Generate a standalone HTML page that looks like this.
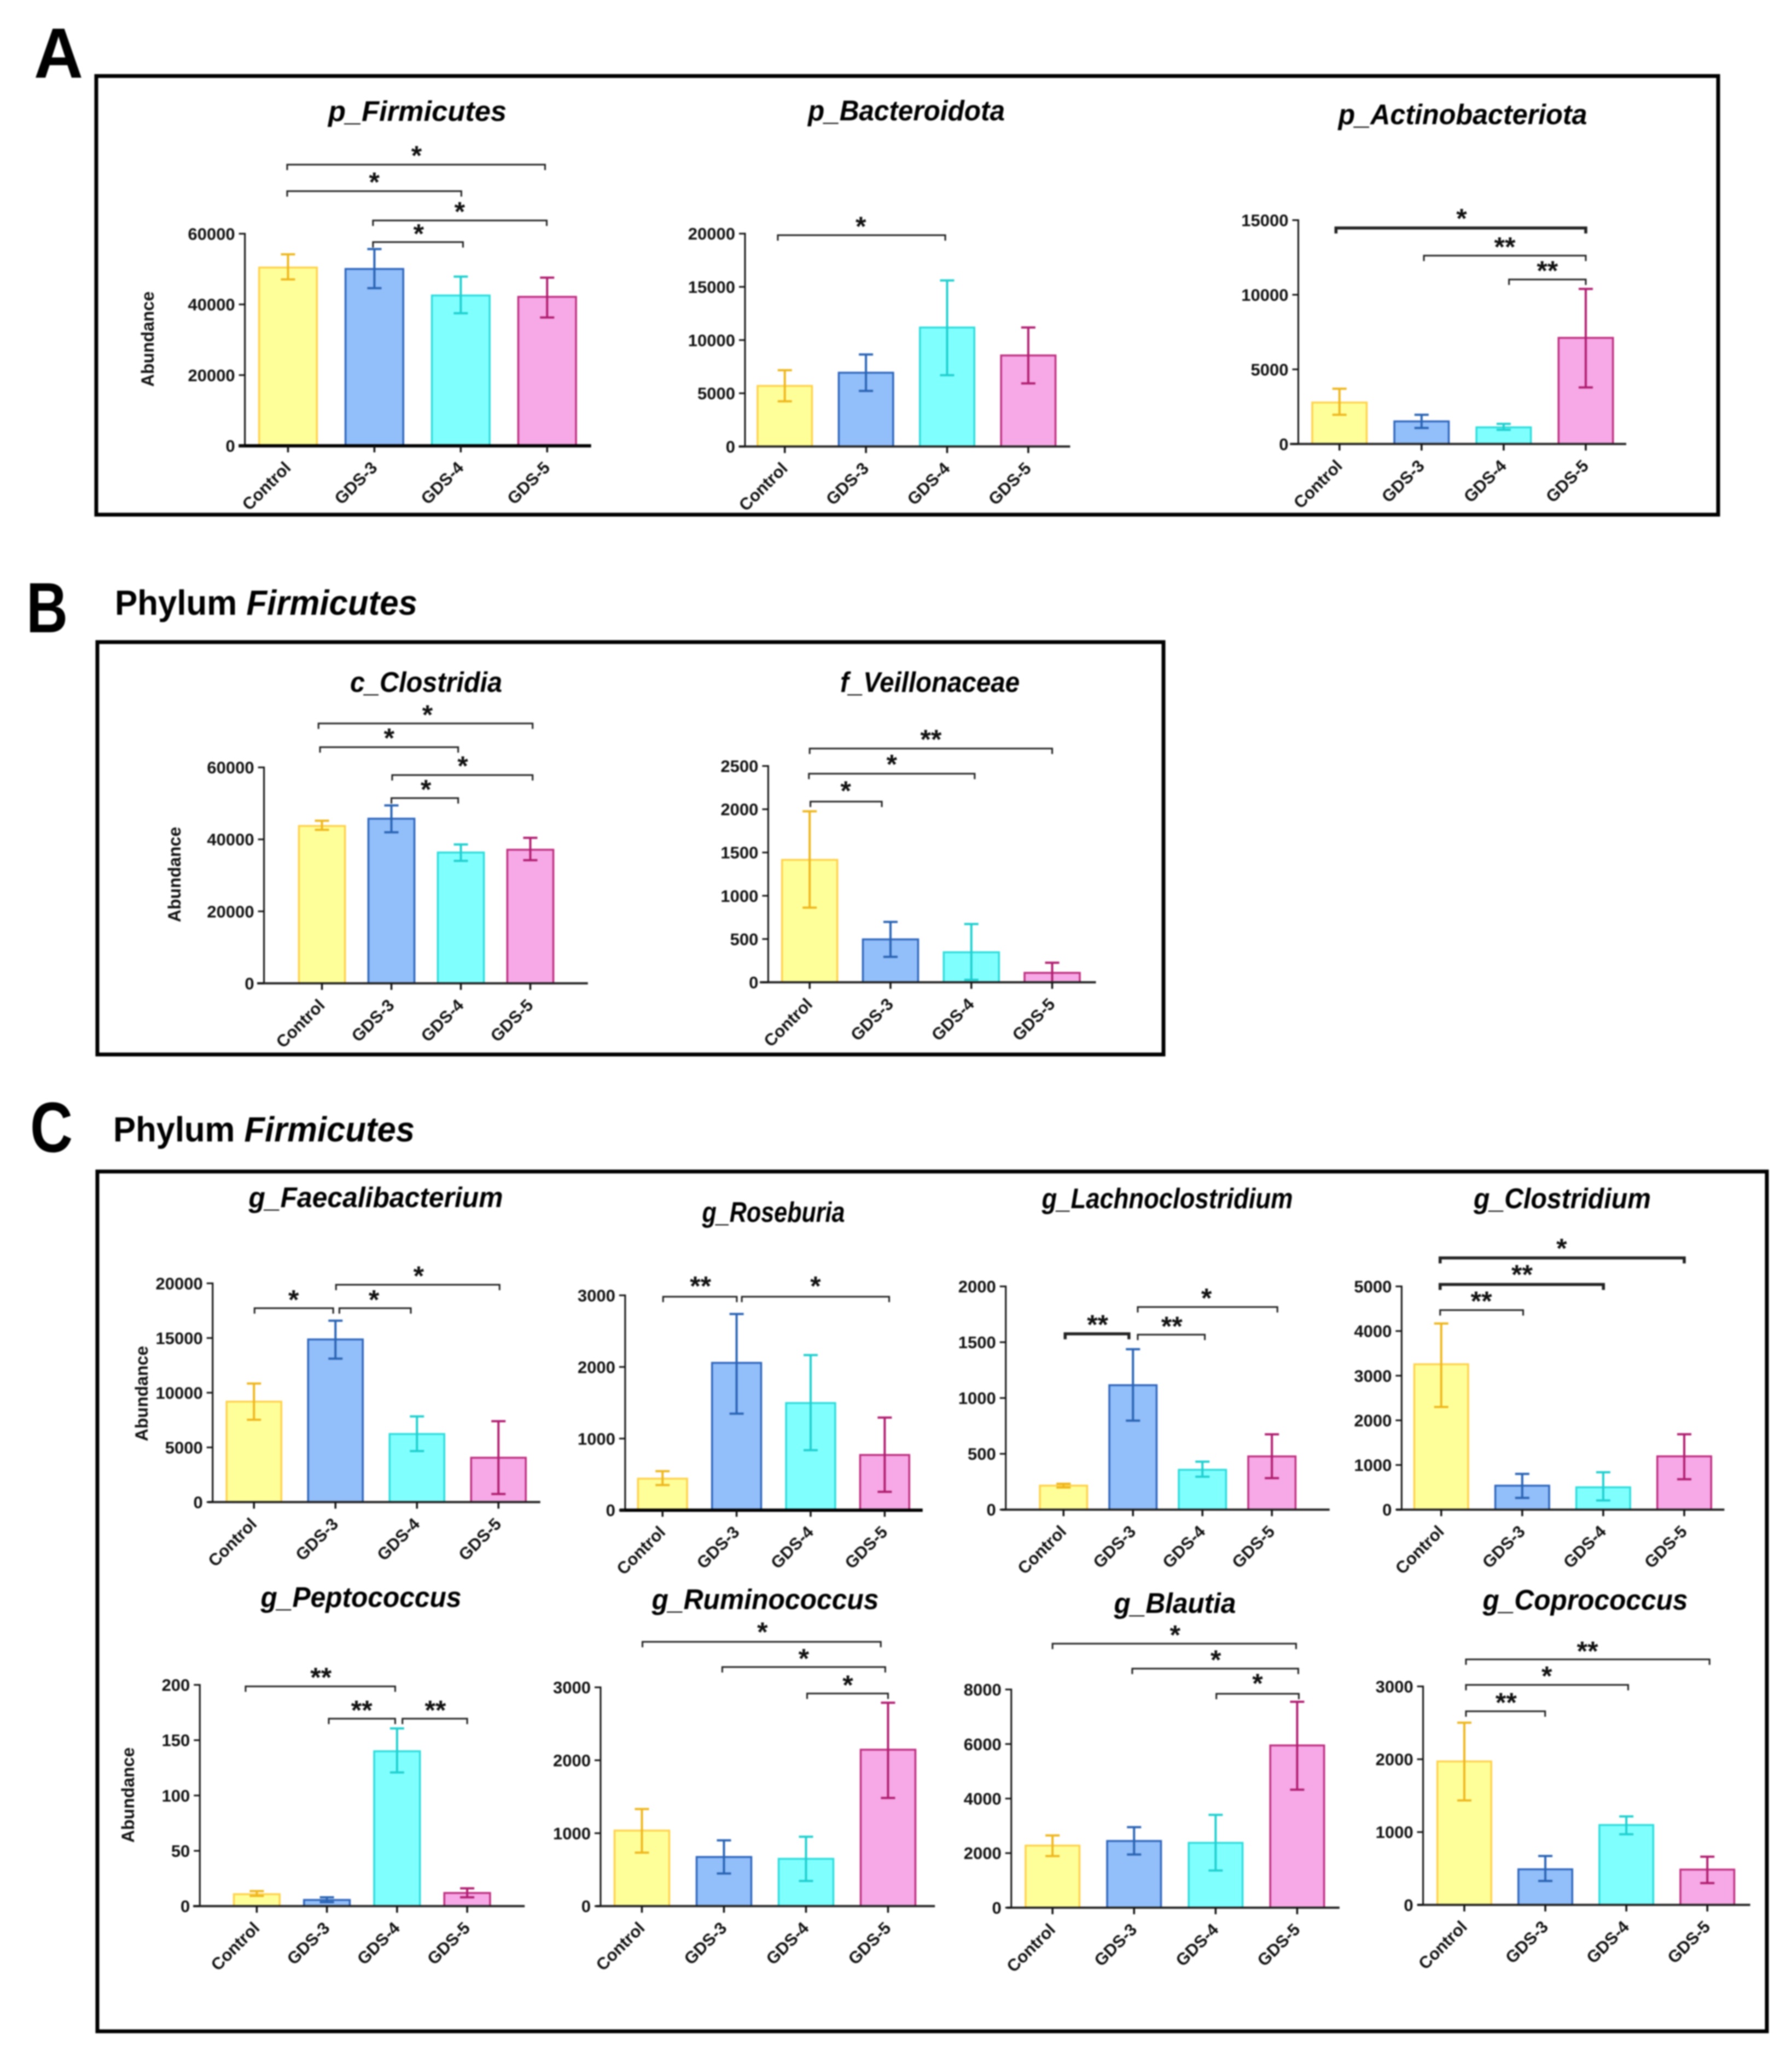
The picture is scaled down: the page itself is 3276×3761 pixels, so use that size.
<!DOCTYPE html>
<html lang="en">
<head>
<meta charset="utf-8">
<title>Gut microbiota abundance by group</title>
<style>
html,body{margin:0;padding:0;background:#fff;}
#figure{display:block;width:3276px;height:3761px;filter:blur(1.2px);font-family:"Liberation Sans",sans-serif;}
.panel-frame{fill:none;stroke:#000;stroke-width:7;}
.panel-letter{font-weight:700;font-size:130px;fill:#000;}
.section-label{font-weight:700;font-size:64px;fill:#000;}
.section-label .it{font-style:italic;}
</style>
</head>
<body>
<svg id="figure" xmlns="http://www.w3.org/2000/svg" width="3276" height="3761" viewBox="0 0 3276 3761">
  <rect x="0" y="0" width="3276" height="3761" fill="#fff"/>
  <text class="panel-letter" x="62" y="142" textLength="90" lengthAdjust="spacingAndGlyphs">A</text>
  <rect class="panel-frame" x="176" y="139" width="2965" height="802"/>
  <text class="panel-letter" x="48" y="1156" textLength="76" lengthAdjust="spacingAndGlyphs">B</text>
  <text class="section-label" x="210" y="1124" textLength="553" lengthAdjust="spacingAndGlyphs">Phylum <tspan class="it">Firmicutes</tspan></text>
  <rect class="panel-frame" x="178" y="1174" width="1949" height="754"/>
  <text class="panel-letter" x="55" y="2106" textLength="78" lengthAdjust="spacingAndGlyphs">C</text>
  <text class="section-label" x="207" y="2087" textLength="551" lengthAdjust="spacingAndGlyphs">Phylum <tspan class="it">Firmicutes</tspan></text>
  <rect class="panel-frame" x="178" y="2142" width="3052" height="1572"/>
  <g id="charts"></g>
</svg>
<script>
// ---------- shared categories ----------
const categories = ['Control', 'GDS-3', 'GDS-4', 'GDS-5'];

// ---------- chart data (means, upper/lower error ends, axis ticks) ----------
const firmicutesMeans = [50430, 50030, 42530, 42140];
const firmicutesHigh = [54180, 55660, 47860, 47570];
const firmicutesLow = [47070, 44600, 37500, 36300];
const firmicutesTicks = [0, 20000, 40000, 60000];

const bacteroidotaMeans = [5693, 6932, 11180, 8555];
const bacteroidotaHigh = [7168, 8643, 15600, 11180];
const bacteroidotaLow = [4248, 5221, 6696, 5929];
const bacteroidotaTicks = [0, 5000, 10000, 15000, 20000];

const actinoMeans = [2777, 1515, 1115, 7111];
const actinoHigh = [3703, 1957, 1346, 10393];
const actinoLow = [1957, 1073, 947, 3787];
const actinoTicks = [0, 5000, 10000, 15000];

const clostridiaMeans = [43716, 45750, 36350, 37120];
const clostridiaHigh = [45170, 49430, 38580, 40420];
const clostridiaLow = [42650, 41970, 34020, 34220];
const clostridiaTicks = [0, 20000, 40000, 60000];

const veillonMeans = [1415, 496, 347, 109];
const veillonHigh = [1976, 698, 673, 226];
const veillonLow = [863, 294, 28, 0];
const veillonTicks = [0, 500, 1000, 1500, 2000, 2500];

const faecaliMeans = [9184, 14872, 6224, 4056];
const faecaliHigh = [10842, 16582, 7832, 7398];
const faecaliLow = [7525, 13112, 4668, 740];
const faecaliTicks = [0, 5000, 10000, 15000, 20000];

const roseburiaMeans = [440, 2057, 1496, 771];
const roseburiaHigh = [545, 2739, 2166, 1293];
const roseburiaLow = [351, 1348, 838, 257];
const roseburiaTicks = [0, 1000, 2000, 3000];

const lachnoMeans = [215, 1115, 357, 477];
const lachnoHigh = [232, 1437, 430, 675];
const lachnoLow = [198, 797, 295, 282];
const lachnoTicks = [0, 500, 1000, 1500, 2000];

const clostridiumMeans = [3256, 537, 500, 1194];
const clostridiumHigh = [4169, 800, 837, 1688];
const clostridiumLow = [2300, 262, 206, 681];
const clostridiumTicks = [0, 1000, 2000, 3000, 4000, 5000];

const peptoMeans = [10.8, 5.6, 140, 11.9];
const peptoHigh = [13.6, 8, 160.6, 16.1];
const peptoLow = [9.2, 3.6, 120.8, 8];
const peptoTicks = [0, 50, 100, 150, 200];

const ruminoMeans = [1036, 674, 649, 2145];
const ruminoHigh = [1331, 902, 952, 2789];
const ruminoLow = [733, 447, 345, 1483];
const ruminoTicks = [0, 1000, 2000, 3000];

const blautiaMeans = [2276, 2445, 2377, 5949];
const blautiaHigh = [2648, 2952, 3403, 7549];
const blautiaLow = [1893, 1949, 1363, 4327];
const blautiaTicks = [0, 2000, 4000, 6000, 8000];

const coproMeans = [1970, 489, 1097, 485];
const coproHigh = [2502, 671, 1215, 662];
const coproLow = [1435, 329, 970, 300];
const coproTicks = [0, 1000, 2000, 3000];

// ---------- series styling ----------
const barFills = ['#FFFF9A', '#92BEF9', '#80FFFF', '#F6A9E6'];
const barStrokes = ['#FFD24D', '#2F66BC', '#2FDCDC', '#BE2F80'];
const errStrokes = ['#EEB71F', '#2A64B4', '#20CFCF', '#B01E70'];

// ---------- layout regions: each chart's geometry below is given in region units ----------
const regionA1 = {ox: 0, oy: 0, sx: 0.7653, sy: 0.6378};
const regionA2 = {ox: 1200, oy: 100, sx: 1.2755, sy: 0.574};
const regionB = {ox: 0, oy: 1000, sx: 1.403, sy: 0.6378};
const regionCL1 = {ox: 100, oy: 2100, sx: 1.0204, sy: 0.5102};
const regionCR1 = {ox: 1700, oy: 2100, sx: 1.0051, sy: 0.5102};
const regionCL2 = {ox: 100, oy: 2880, sx: 1.0204, sy: 0.5619};
const regionCR2 = {ox: 1700, oy: 2880, sx: 1.0051, sy: 0.5619};

const SVG_NS = 'http://www.w3.org/2000/svg';
const root = document.getElementById('charts');

function make(parent, tag, attrs, text) {
  const el = document.createElementNS(SVG_NS, tag);
  for (const k in attrs) el.setAttribute(k, attrs[k]);
  if (text !== undefined) el.textContent = text;
  parent.appendChild(el);
  return el;
}

function drawChart(c) {
  const R = c.region;
  const X = v => R.ox + v * R.sx;
  const Y = v => R.oy + v * R.sy;
  const yMax = c.ticks[c.ticks.length - 1];
  const base = Y(c.base), top = Y(c.top);
  const yScale = v => base - (v / yMax) * (base - top);
  const xScale = i => X(c.firstCat) + i * (X(c.lastCat) - X(c.firstCat)) / (categories.length - 1);
  const axisX = X(c.axisX);
  const halfBar = c.halfBar * R.sx;

  const g = make(root, 'g', {});
  
  

  const title = make(g, 'text', {x: c.titleX, y: c.titleY, 'text-anchor': 'middle', 'font-size': 52, 'font-weight': 700, 'font-style': 'italic', fill: '#000', textLength: c.titleWidth, lengthAdjust: 'spacingAndGlyphs'}, c.title);
  
  

  categories.forEach((cat, i) => {
    const cx = xScale(i);
    const yVal = yScale(c.means[i]);
    const bar = make(g, 'rect', {x: cx - halfBar, y: yVal, width: 2 * halfBar, height: Math.max(0, base - yVal), fill: barFills[i], stroke: barStrokes[i], 'stroke-width': 3.5});
    
    

    const yHi = yScale(c.high[i]), yLo = yScale(c.low[i]);
    const err = make(g, 'path', {d: 'M' + (cx - 13) + ' ' + yHi + 'H' + (cx + 13) + 'M' + cx + ' ' + yHi + 'V' + yLo + 'M' + (cx - 13) + ' ' + yLo + 'H' + (cx + 13), fill: 'none', stroke: errStrokes[i], 'stroke-width': 4});
    
    
  });

  const yAxis = make(g, 'line', {x1: axisX, x2: axisX, y1: top - 1.5, y2: base, stroke: '#111', 'stroke-width': 3});
  
  

  const xAxis = make(g, 'line', {x1: X(c.axisL), x2: X(c.axisR), y1: base, y2: base, stroke: c.heavyAxis ? '#000' : '#222', 'stroke-width': c.heavyAxis ? 6 : 4});
  
  

  c.ticks.forEach(t => {
    const ty = yScale(t);
    const mark = make(g, 'line', {x1: axisX - 11, x2: axisX, y1: ty, y2: ty, stroke: '#111', 'stroke-width': 3});
    
    
    const label = make(g, 'text', {x: axisX - 18, y: ty + 11, 'text-anchor': 'end', 'font-size': 31, 'font-weight': 700, fill: '#111'}, String(t));
    
    
  });

  categories.forEach((cat, i) => {
    const cx = xScale(i);
    const mark = make(g, 'line', {x1: cx, x2: cx, y1: base, y2: base + 12, stroke: '#111', 'stroke-width': 3.5});
    
    
    const lx = cx + 7, ly = base + 42;
    const label = make(g, 'text', {x: lx, y: ly, 'text-anchor': 'end', 'font-size': 31, 'font-weight': 700, fill: '#111', transform: 'rotate(-45 ' + lx + ' ' + ly + ')'}, cat);
    
    
  });

  if (c.yTitle) {
    const yt = make(g, 'text', {x: 0, y: 0, 'text-anchor': 'middle', 'font-size': 32, 'font-weight': 700, fill: '#111', transform: 'translate(' + c.yTitle[0] + ' ' + c.yTitle[1] + ') rotate(-90)'}, 'Abundance');
    
    
  }

  c.brackets.forEach(b => {
    const x1 = X(b.from), x2 = X(b.to), by = Y(b.y);
    const br = make(g, 'path', {d: 'M' + x1 + ' ' + (by + 10) + 'V' + by + 'H' + x2 + 'V' + (by + 10), fill: 'none', stroke: '#222', 'stroke-width': b.thick ? 5.5 : 3});
    
    
    const star = make(g, 'text', {x: X(b.sx), y: Y(b.sy) + 24, 'text-anchor': 'middle', 'font-size': 50, 'font-weight': 700, fill: '#111'}, b.label);
    
    
  });
}

// ---------- panel A ----------
drawChart({id: 'firmicutes', title: 'p_Firmicutes', titleX: 763, titleY: 221, titleWidth: 326, region: regionA1,
  means: firmicutesMeans, high: firmicutesHigh, low: firmicutesLow, ticks: firmicutesTicks,
  axisX: 585, axisL: 570, axisR: 1412, base: 1278, top: 670, firstCat: 688, lastCat: 1307, halfBar: 69, yTitle: [281, 620], heavyAxis: true,
  brackets: [
    {from: 686, to: 1302, y: 472, sx: 995, sy: 435, label: '*'},
    {from: 686, to: 1102, y: 548, sx: 894, sy: 511, label: '*'},
    {from: 891, to: 1306, y: 632, sx: 1098, sy: 596, label: '*'},
    {from: 891, to: 1106, y: 694, sx: 1000, sy: 659, label: '*'}
  ]});

drawChart({id: 'bacteroidota', title: 'p_Bacteroidota', titleX: 1657, titleY: 220, titleWidth: 360, region: regionA2,
  means: bacteroidotaMeans, high: bacteroidotaHigh, low: bacteroidotaLow, ticks: bacteroidotaTicks,
  axisX: 127, axisL: 118, axisR: 593, base: 1248, top: 570, firstCat: 184, lastCat: 533, halfBar: 39,
  brackets: [
    {from: 174, to: 414, y: 575, sx: 293, sy: 535, label: '*'}
  ]});

drawChart({id: 'actinobacteriota', title: 'p_Actinobacteriota', titleX: 2674, titleY: 227, titleWidth: 455, region: regionA2,
  means: actinoMeans, high: actinoHigh, low: actinoLow, ticks: actinoTicks,
  axisX: 920, axisL: 908, axisR: 1390, base: 1240, top: 527, firstCat: 979, lastCat: 1332, halfBar: 39,
  brackets: [
    {from: 974, to: 1332, y: 552, sx: 1154, sy: 510, label: '*', thick: true},
    {from: 1100, to: 1332, y: 640, sx: 1216, sy: 600, label: '**'},
    {from: 1222, to: 1332, y: 716, sx: 1277, sy: 676, label: '**'}
  ]});

// ---------- panel B ----------
drawChart({id: 'clostridia', title: 'c_Clostridia', titleX: 779, titleY: 1265, titleWidth: 278, region: regionB,
  means: clostridiaMeans, high: clostridiaHigh, low: clostridiaLow, ticks: clostridiaTicks,
  axisX: 344, axisL: 335, axisR: 766, base: 1251, top: 632, firstCat: 419.5, lastCat: 691, halfBar: 30, yTitle: [330, 1599],
  brackets: [
    {from: 415, to: 694, y: 506, sx: 557, sy: 470, label: '*'},
    {from: 417, to: 597, y: 574, sx: 507, sy: 537, label: '*'},
    {from: 511, to: 694, y: 654, sx: 603, sy: 617, label: '*'},
    {from: 510, to: 597, y: 720, sx: 555, sy: 684, label: '*'}
  ]});

drawChart({id: 'veillonaceae', title: 'f_Veillonaceae', titleX: 1700, titleY: 1265, titleWidth: 328, region: regionB,
  means: veillonMeans, high: veillonHigh, low: veillonLow, ticks: veillonTicks,
  axisX: 1001, axisL: 990, axisR: 1428, base: 1248, top: 628, firstCat: 1055, lastCat: 1371, halfBar: 36,
  brackets: [
    {from: 1056, to: 1149, y: 730, sx: 1102, sy: 688, label: '*'},
    {from: 1054, to: 1270, y: 650, sx: 1162, sy: 612, label: '*'},
    {from: 1055, to: 1371, y: 578, sx: 1213, sy: 541, label: '**'}
  ]});

// ---------- panel C, top row ----------
drawChart({id: 'faecalibacterium', title: 'g_Faecalibacterium', titleX: 687, titleY: 2207, titleWidth: 465, region: regionCL1,
  means: faecaliMeans, high: faecaliHigh, low: faecaliLow, ticks: faecaliTicks,
  axisX: 283, axisL: 275, axisR: 870, base: 1267, top: 483, firstCat: 357, lastCat: 795, halfBar: 49, yTitle: [270, 2548],
  brackets: [
    {from: 358, to: 499, y: 572, sx: 428, sy: 528, label: '*'},
    {from: 510, to: 638, y: 572, sx: 572, sy: 528, label: '*'},
    {from: 504, to: 797, y: 488, sx: 652, sy: 443, label: '*'}
  ]});

drawChart({id: 'roseburia', title: 'g_Roseburia', titleX: 1414, titleY: 2234, titleWidth: 261, region: regionCL1,
  means: roseburiaMeans, high: roseburiaHigh, low: roseburiaLow, ticks: roseburiaTicks,
  axisX: 1022, axisL: 1012, axisR: 1555, base: 1296, top: 526, firstCat: 1089, lastCat: 1487, halfBar: 44, heavyAxis: true,
  brackets: [
    {from: 1090, to: 1222, y: 531, sx: 1157, sy: 479, label: '**'},
    {from: 1231, to: 1495, y: 531, sx: 1363, sy: 479, label: '*'}
  ]});

drawChart({id: 'lachnoclostridium', title: 'g_Lachnoclostridium', titleX: 2134, titleY: 2209, titleWidth: 459, region: regionCR1,
  means: lachnoMeans, high: lachnoHigh, low: lachnoLow, ticks: lachnoTicks,
  axisX: 138, axisL: 130, axisR: 727, base: 1294, top: 494, firstCat: 243, lastCat: 622, halfBar: 43,
  brackets: [
    {from: 246, to: 362, y: 664, sx: 305, sy: 617, label: '**', thick: true},
    {from: 378, to: 500, y: 667, sx: 440, sy: 623, label: '**'},
    {from: 378, to: 632, y: 568, sx: 503, sy: 522, label: '*'}
  ]});

drawChart({id: 'clostridium', title: 'g_Clostridium', titleX: 2856, titleY: 2209, titleWidth: 324, region: regionCR1,
  means: clostridiumMeans, high: clostridiumHigh, low: clostridiumLow, ticks: clostridiumTicks,
  axisX: 858, axisL: 848, axisR: 1445, base: 1294, top: 494, firstCat: 930, lastCat: 1372, halfBar: 49,
  brackets: [
    {from: 928, to: 1372, y: 392, sx: 1149, sy: 344, label: '*', thick: true},
    {from: 928, to: 1225, y: 487, sx: 1077, sy: 438, label: '**', thick: true},
    {from: 928, to: 1079, y: 579, sx: 1003, sy: 533, label: '**'}
  ]});

// ---------- panel C, bottom row ----------
drawChart({id: 'peptococcus', title: 'g_Peptococcus', titleX: 660, titleY: 2938, titleWidth: 367, region: regionCL2,
  means: peptoMeans, high: peptoHigh, low: peptoLow, ticks: peptoTicks,
  axisX: 260, axisL: 248, axisR: 842, base: 1077, top: 357, firstCat: 362, lastCat: 739, halfBar: 41, yTitle: [245, 3282],
  brackets: [
    {from: 342, to: 610, y: 362, sx: 477, sy: 320, label: '**'},
    {from: 491, to: 610, y: 467, sx: 550, sy: 427, label: '**'},
    {from: 623, to: 739, y: 467, sx: 682, sy: 427, label: '**'}
  ]});

drawChart({id: 'ruminococcus', title: 'g_Ruminococcus', titleX: 1399, titleY: 2942, titleWidth: 415, region: regionCL2,
  means: ruminoMeans, high: ruminoHigh, low: ruminoLow, ticks: ruminoTicks,
  axisX: 978, axisL: 970, axisR: 1577, base: 1077, top: 365, firstCat: 1052, lastCat: 1493, halfBar: 49,
  brackets: [
    {from: 1053, to: 1480, y: 217, sx: 1268, sy: 173, label: '*'},
    {from: 1196, to: 1488, y: 299, sx: 1342, sy: 259, label: '*'},
    {from: 1348, to: 1493, y: 385, sx: 1421, sy: 345, label: '*'}
  ]});

drawChart({id: 'blautia', title: 'g_Blautia', titleX: 2148, titleY: 2949, titleWidth: 223, region: regionCR2,
  means: blautiaMeans, high: blautiaHigh, low: blautiaLow, ticks: blautiaTicks,
  axisX: 148, axisL: 140, axisR: 745, base: 1082, top: 372, firstCat: 223, lastCat: 668, halfBar: 49,
  brackets: [
    {from: 223, to: 666, y: 223, sx: 446, sy: 182, label: '*'},
    {from: 368, to: 670, y: 304, sx: 520, sy: 263, label: '*'},
    {from: 521, to: 671, y: 386, sx: 596, sy: 340, label: '*'}
  ]});

drawChart({id: 'coprococcus', title: 'g_Coprococcus', titleX: 2898, titleY: 2943, titleWidth: 375, region: regionCR2,
  means: coproMeans, high: coproHigh, low: coproLow, ticks: coproTicks,
  axisX: 897, axisL: 887, axisR: 1492, base: 1073, top: 362, firstCat: 972, lastCat: 1414, halfBar: 49,
  brackets: [
    {from: 975, to: 1418, y: 274, sx: 1196, sy: 235, label: '**'},
    {from: 975, to: 1270, y: 357, sx: 1122, sy: 316, label: '*'},
    {from: 975, to: 1119, y: 443, sx: 1048, sy: 402, label: '**'}
  ]});
</script>
</body>
</html>
